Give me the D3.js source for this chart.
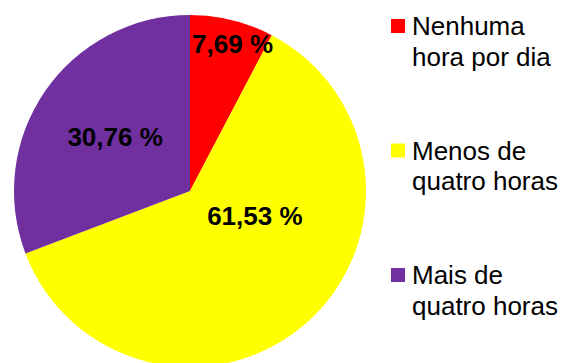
<!DOCTYPE html>
<html>
<head>
<meta charset="utf-8">
<script src="https://cdn.jsdelivr.net/npm/d3@7"></script>
<style>
body { margin: 0; background: #fff; }
svg { display: block; font-family: "Liberation Sans", Arial, sans-serif; }
</style>
</head>
<body>
<svg id="mainSvg" width="564" height="363"></svg>
<script>
// chart data
var categories = ["Nenhuma hora por dia", "Menos de quatro horas", "Mais de quatro horas"];
var legendLines = [["Nenhuma", "hora por dia"], ["Menos de", "quatro horas"], ["Mais de", "quatro horas"]];
var values = [7.69, 61.53, 30.76];
var valueLabels = ["7,69 %", "61,53 %", "30,76 %"];
var colors = ["#ff0000", "#ffff00", "#7030a0"];

var cx = 190, cy = 191, radius = 176;

var mainSvg = d3.select("#mainSvg");

var pie = d3.pie().sort(null).value(function(d) { return d; });
var arc = d3.arc().innerRadius(0).outerRadius(radius);
var arcs = pie(values);

var g = mainSvg.append("g").attr("transform", "translate(" + cx + "," + cy + ")");
g.selectAll("path").data(arcs).enter().append("path")
	.attr("d", arc)
	.attr("fill", function(d, i) { return colors[i]; });

// label placement: radius fraction and angle shift (degrees) from slice middle
var labelPos = [
	{r: 0.87, da: 2.3},
	{r: 0.395, da: -27.4},
	{r: 0.525, da: 1.2}
];
function labelAngle(d, i) {
	return (d.startAngle + d.endAngle) / 2 + labelPos[i].da * Math.PI / 180;
}
g.selectAll("text.lbl").data(arcs).enter().append("text")
	.attr("class", "lbl")
	.attr("x", function(d, i) { return Math.sin(labelAngle(d, i)) * radius * labelPos[i].r; })
	.attr("y", function(d, i) { return -Math.cos(labelAngle(d, i)) * radius * labelPos[i].r; })
	.attr("text-anchor", "middle")
	.attr("dy", "0.35em")
	.attr("font-size", "26px")
	.attr("font-weight", "bold")
	.attr("fill", "#000")
	.text(function(d, i) { return valueLabels[i]; });

// legend
var legendY = d3.scaleLinear().domain([0, 2]).range([35, 284]);
var leg = mainSvg.selectAll("g.legend").data(categories).enter().append("g")
	.attr("class", "legend")
	.attr("transform", function(d, i) { return "translate(0," + legendY(i) + ")"; });
leg.append("rect")
	.attr("x", 391).attr("y", -16)
	.attr("width", 14).attr("height", 14)
	.attr("fill", function(d, i) { return colors[i]; });
leg.each(function(d, i) {
	var t = d3.select(this).append("text")
		.attr("x", 412).attr("y", 0)
		.attr("font-size", "26px")
		.attr("fill", "#000");
	legendLines[i].forEach(function(line, j) {
		t.append("tspan").attr("x", 412).attr("y", j * 30.5).text(line);
	});
});
</script>
</body>
</html>
